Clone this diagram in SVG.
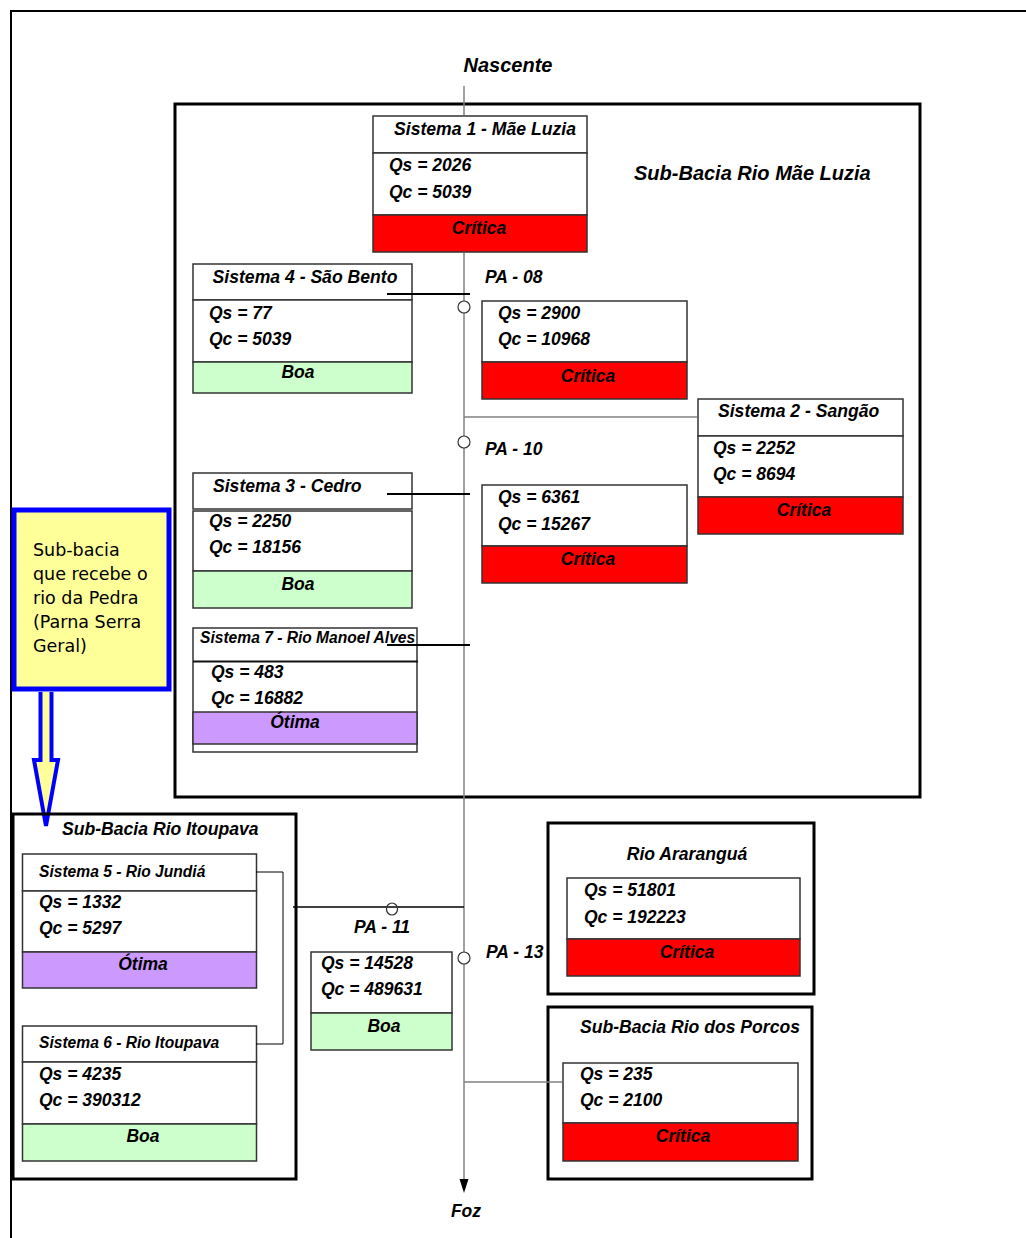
<svg xmlns="http://www.w3.org/2000/svg" width="1026" height="1238" viewBox="0 0 1026 1238">
<style>
.t{font-family:"Liberation Sans",Arial,sans-serif;font-weight:bold;font-style:italic;fill:#000}
.d{font-size:17.5px}
.h{font-size:17.6px}
.s{font-size:15.6px}
.c{text-anchor:middle}
.box{fill:#fff;stroke:#333;stroke-width:1.5}
.red{fill:#ff0000;stroke:#333;stroke-width:1.5}
.grn{fill:#ccffcc;stroke:#333;stroke-width:1.5}
.pur{fill:#cc99ff;stroke:#333;stroke-width:1.5}
.frame{fill:none;stroke:#000;stroke-width:3}
.river{stroke:#808080;stroke-width:1.5;fill:none}
.link{stroke:#000;stroke-width:2;fill:none}
.pa{fill:#fff;stroke:#333;stroke-width:1.2}
.note{font-family:"DejaVu Sans",Verdana,sans-serif;font-size:17.5px;fill:#000}
</style>
<rect width="1026" height="1238" fill="#fff"/>
<path d="M11,1238 V11 H1026" fill="none" stroke="#000" stroke-width="2"/>

<text class="t c" x="508" y="72" style="font-size:20px">Nascente</text>
<text class="t c" x="466" y="1217" style="font-size:17.5px">Foz</text>

<g id="subbacia-mae-luzia">
<rect class="frame" x="175" y="104" width="745" height="693"/>
<text class="t" x="634" y="180" style="font-size:20px">Sub-Bacia Rio Mãe Luzia</text>
</g>

<g id="sistema1">
<rect class="box" x="373" y="116" width="214" height="37"/>
<rect class="box" x="373" y="153" width="214" height="62"/>
<rect class="red" x="373" y="215" width="214" height="37"/>
<text class="t h c" x="485" y="135">Sistema 1 - Mãe Luzia</text>
<text class="t d" x="389" y="171">Qs = 2026</text>
<text class="t d" x="389" y="198">Qc = 5039</text>
<text class="t d c" x="479" y="234">Crítica</text>
</g>

<g id="sistema4">
<rect class="box" x="193" y="264" width="219" height="36"/>
<rect class="box" x="193" y="300" width="219" height="62"/>
<rect class="grn" x="193" y="362" width="219" height="31"/>
<text class="t h c" x="305" y="283">Sistema 4 - São Bento</text>
<text class="t d" x="209" y="319">Qs = 77</text>
<text class="t d" x="209" y="345">Qc = 5039</text>
<text class="t d c" x="298" y="378">Boa</text>
</g>

<g id="pa08">
<text class="t d" x="485" y="283">PA - 08</text>
<rect class="box" x="482" y="301" width="205" height="61"/>
<rect class="red" x="482" y="362" width="205" height="37"/>
<text class="t d" x="498" y="319">Qs = 2900</text>
<text class="t d" x="498" y="345">Qc = 10968</text>
<text class="t d c" x="588" y="382">Crítica</text>
</g>

<g id="sistema2">
<rect class="box" x="698" y="399" width="205" height="37"/>
<rect class="box" x="698" y="436" width="205" height="61"/>
<rect class="red" x="698" y="497" width="205" height="37"/>
<text class="t h" x="718" y="417">Sistema 2 - Sangão</text>
<text class="t d" x="713" y="454">Qs = 2252</text>
<text class="t d" x="713" y="480">Qc = 8694</text>
<text class="t d c" x="804" y="516">Crítica</text>
</g>

<g id="pa10">
<text class="t d" x="485" y="455">PA - 10</text>
<rect class="box" x="482" y="485" width="205" height="61"/>
<rect class="red" x="482" y="546" width="205" height="37"/>
<text class="t d" x="498" y="503">Qs = 6361</text>
<text class="t d" x="498" y="530">Qc = 15267</text>
<text class="t d c" x="588" y="565">Crítica</text>
</g>

<g id="sistema3">
<rect class="box" x="193" y="473" width="219" height="36"/>
<rect class="box" x="193" y="511" width="219" height="60"/>
<rect class="grn" x="193" y="571" width="219" height="37"/>
<text class="t h" x="213" y="492">Sistema 3 - Cedro</text>
<text class="t d" x="209" y="527">Qs = 2250</text>
<text class="t d" x="209" y="553">Qc = 18156</text>
<text class="t d c" x="298" y="590">Boa</text>
</g>

<g id="sistema7">
<rect class="box" x="193" y="628" width="224" height="124"/>
<line x1="193" y1="661.5" x2="418" y2="661.5" stroke="#111" stroke-width="2"/>
<rect class="pur" x="193" y="712" width="224" height="32"/>
<text class="t s" x="200" y="643">Sistema 7 - Rio Manoel Alves</text>
<text class="t d" x="211" y="678">Qs = 483</text>
<text class="t d" x="211" y="704">Qc = 16882</text>
<text class="t d c" x="295" y="728">Ótima</text>
</g>

<g id="callout">
<rect x="14" y="510" width="155" height="179" fill="#ffff99" stroke="#0000ff" stroke-width="5"/>
<text class="note" x="33" y="556">Sub-bacia</text>
<text class="note" x="33" y="580">que recebe o</text>
<text class="note" x="33" y="604">rio da Pedra</text>
<text class="note" x="33" y="628">(Parna Serra</text>
<text class="note" x="33" y="652">Geral)</text>
<path d="M40.5,692 V760 H34 L46,826 L58,760 H51.5 V692" fill="#ffff99" stroke="#0000ff" stroke-width="4" stroke-linejoin="miter"/>
</g>

<g id="subbacia-itoupava">
<rect class="frame" x="13" y="814" width="283" height="365"/>
<text class="t h" x="62" y="835">Sub-Bacia Rio Itoupava</text>
</g>

<g id="sistema5">
<rect class="box" x="22.5" y="854" width="234" height="37"/>
<rect class="box" x="22.5" y="891" width="234" height="61"/>
<rect class="pur" x="22.5" y="952" width="234" height="36"/>
<text class="t s" x="39" y="877">Sistema 5 - Rio Jundiá</text>
<text class="t d" x="39" y="908">Qs = 1332</text>
<text class="t d" x="39" y="934">Qc = 5297</text>
<text class="t d c" x="143" y="970">Ótima</text>
</g>

<g id="sistema6">
<rect class="box" x="22.5" y="1026" width="234" height="36"/>
<rect class="box" x="22.5" y="1062" width="234" height="62"/>
<rect class="grn" x="22.5" y="1124" width="234" height="37"/>
<text class="t s" x="39" y="1048">Sistema 6 - Rio Itoupava</text>
<text class="t d" x="39" y="1080">Qs = 4235</text>
<text class="t d" x="39" y="1106">Qc = 390312</text>
<text class="t d c" x="143" y="1142">Boa</text>
</g>

<g id="pa11">
<text class="t d" x="354" y="933">PA - 11</text>
<rect class="box" x="311" y="952" width="141" height="61"/>
<rect class="grn" x="311" y="1013" width="141" height="37"/>
<text class="t d" x="321" y="969">Qs = 14528</text>
<text class="t d" x="321" y="995">Qc = 489631</text>
<text class="t d c" x="384" y="1032">Boa</text>
</g>

<g id="pa13">
<text class="t d" x="486" y="958">PA - 13</text>
</g>

<g id="rio-ararangua">
<rect class="frame" x="548" y="823" width="266" height="171"/>
<text class="t h c" x="687" y="860">Rio Araranguá</text>
<rect class="box" x="567" y="878" width="233" height="61"/>
<rect class="red" x="567" y="939" width="233" height="37"/>
<text class="t d" x="584" y="896">Qs = 51801</text>
<text class="t d" x="584" y="923">Qc = 192223</text>
<text class="t d c" x="687" y="958">Crítica</text>
</g>

<g id="subbacia-porcos">
<rect class="frame" x="548" y="1007" width="264" height="172"/>
<text class="t h c" x="690" y="1033">Sub-Bacia Rio dos Porcos</text>
<rect class="box" x="563" y="1063" width="235" height="60"/>
<rect class="red" x="563" y="1123" width="235" height="38"/>
<text class="t d" x="580" y="1080">Qs = 235</text>
<text class="t d" x="580" y="1106">Qc = 2100</text>
<text class="t d c" x="683" y="1142">Crítica</text>
</g>

<g id="connectors">
<line class="river" x1="464" y1="86" x2="464" y2="115"/>
<line class="river" x1="464" y1="253" x2="464" y2="1179"/>
<path d="M459.5,1179 L468.5,1179 L464,1193 Z" fill="#000"/>
<line class="river" x1="464" y1="417" x2="697" y2="417"/>
<line class="river" x1="464" y1="1082" x2="562" y2="1082"/>
<line class="link" x1="387" y1="294" x2="470" y2="294"/>
<line class="link" x1="387" y1="494" x2="470" y2="494"/>
<line class="link" x1="387" y1="645" x2="470" y2="645"/>
<line class="link" x1="293" y1="907" x2="464" y2="907" style="stroke-width:1.5"/>
<path d="M256,872 H283 V1044 H256" fill="none" stroke="#000" stroke-width="1"/>
<circle class="pa" cx="464" cy="307" r="6"/>
<circle class="pa" cx="464" cy="442" r="6"/>
<circle class="pa" cx="464" cy="958" r="6"/>
<ellipse cx="392" cy="909" rx="5.5" ry="6" fill="none" stroke="#333" stroke-width="1.2"/>
</g>
</svg>
